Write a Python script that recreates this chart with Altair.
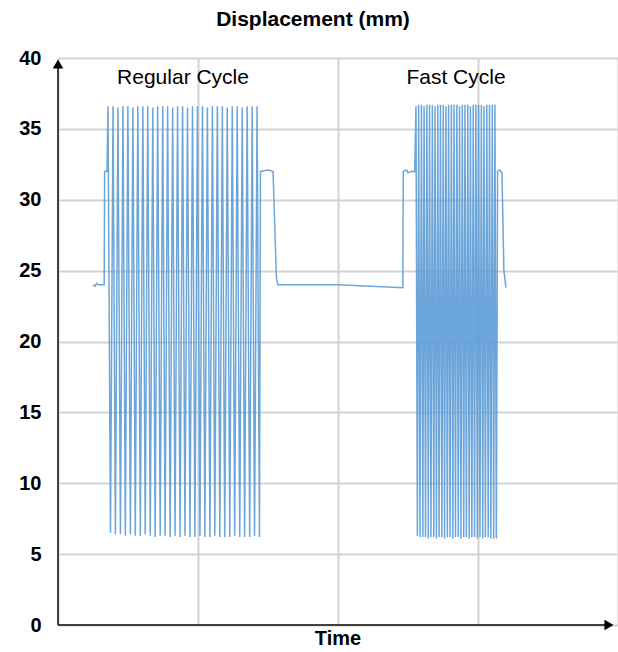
import altair as alt
import pandas as pd

FONT = "Liberation Sans"
LINE_COLOR = "#5b9bd5"

# --- lead-in / hold segments (time, displacement mm) ---
lead_t = [25.0, 26.5, 27.5, 29.0, 33.0, 33.3, 35.0]
lead_v = [24.0, 23.9, 24.1, 24.0, 24.0, 32.0, 32.0]

mid_t = [144.6, 150.0, 153.6, 156.0, 157.1, 200.0, 246.3, 246.6, 249.0, 250.0, 252.0, 254.8]
mid_v = [32.0, 32.1, 32.0, 24.5, 24.0, 24.0, 23.8, 32.0, 32.1, 31.9, 32.0, 32.0]

tail_t = [314.0, 315.5, 317.1, 318.5, 320.0]
tail_v = [32.0, 32.1, 31.9, 25.0, 23.8]

# --- Regular cycle: peaks and troughs ---
reg_peak_t = [35.7, 39.3, 42.8, 46.4, 49.9, 53.5, 57.0, 60.6, 64.1, 67.7, 71.2, 74.8, 78.3,
              81.9, 85.4, 89.0, 92.5, 96.1, 99.6, 103.2, 106.7, 110.3, 113.8, 117.4, 120.9,
              124.5, 128.0, 131.6, 135.1, 138.7, 142.2]
reg_peak_v = [36.6, 36.6, 36.5, 36.6, 36.6, 36.5, 36.6, 36.6, 36.6, 36.5, 36.6, 36.6, 36.6,
              36.5, 36.6, 36.6, 36.5, 36.6, 36.6, 36.6, 36.5, 36.6, 36.6, 36.6, 36.5,
              36.6, 36.6, 36.5, 36.6, 36.6, 36.6]
reg_trough_t = [37.5, 41.0, 44.6, 48.1, 51.7, 55.2, 58.8, 62.3, 65.9, 69.4, 73.0, 76.5, 80.1,
                83.6, 87.2, 90.7, 94.3, 97.8, 101.4, 104.9, 108.5, 112.0, 115.6, 119.1, 122.7,
                126.2, 129.8, 133.3, 136.9, 140.4, 143.9]
reg_trough_v = [6.5, 6.4, 6.4, 6.3, 6.4, 6.3, 6.3, 6.4, 6.3, 6.2, 6.3, 6.3, 6.2,
                6.3, 6.2, 6.3, 6.2, 6.2, 6.3, 6.2, 6.2, 6.3, 6.2, 6.2, 6.2,
                6.3, 6.2, 6.2, 6.2, 6.3, 6.2]

# --- Fast cycle: peaks and troughs ---
fast_peak_t = [255.7, 257.6, 259.6, 261.5, 263.5, 265.4, 267.4, 269.3, 271.3, 273.2,
               275.2, 277.1, 279.0, 281.0, 282.9, 284.9, 286.8, 288.8, 290.7, 292.7,
               294.6, 296.6, 298.5, 300.4, 302.4, 304.3, 306.3, 308.2, 310.2, 312.1]
fast_peak_v = [36.6, 36.7, 36.7, 36.6, 36.7, 36.7, 36.7, 36.6, 36.7, 36.7,
               36.7, 36.6, 36.7, 36.7, 36.7, 36.7, 36.6, 36.7, 36.7, 36.7,
               36.6, 36.7, 36.7, 36.7, 36.7, 36.6, 36.7, 36.7, 36.7, 36.7]
fast_trough_t = [256.7, 258.6, 260.6, 262.5, 264.5, 266.4, 268.4, 270.3, 272.2, 274.2,
                 276.1, 278.1, 280.0, 282.0, 283.9, 285.9, 287.8, 289.8, 291.7, 293.7,
                 295.6, 297.5, 299.5, 301.4, 303.4, 305.3, 307.3, 309.2, 311.2, 313.1]
fast_trough_v = [6.3, 6.2, 6.2, 6.2, 6.1, 6.2, 6.2, 6.1, 6.2, 6.2,
                 6.1, 6.2, 6.2, 6.1, 6.2, 6.2, 6.1, 6.2, 6.2, 6.1,
                 6.2, 6.2, 6.1, 6.2, 6.1, 6.2, 6.2, 6.1, 6.1, 6.1]

y_ticks = [0, 5, 10, 15, 20, 25, 30, 35, 40]
x_grid = [0, 100, 200, 300, 400]

labels_text = ["Regular Cycle", "Fast Cycle"]
labels_t = [89.3, 284.3]
labels_v = [38.6, 38.6]

ts = lead_t + reg_peak_t + reg_trough_t + mid_t + fast_peak_t + fast_trough_t + tail_t
vs = lead_v + reg_peak_v + reg_trough_v + mid_v + fast_peak_v + fast_trough_v + tail_v
df = pd.DataFrame({"t": ts, "v": vs}).sort_values("t").reset_index(drop=True)

W, H = 560, 567

x_enc = alt.X("t:Q", scale=alt.Scale(domain=[0, 400], nice=False, zero=False),
              axis=alt.Axis(values=x_grid, labels=False, ticks=False, domain=False,
                            title=None, grid=True, gridColor="#d3d3d3", gridWidth=2))
y_enc = alt.Y("v:Q", scale=alt.Scale(domain=[0, 40], nice=False),
              axis=alt.Axis(values=y_ticks, ticks=False, domain=False, title=None,
                            labelFont=FONT, labelFontSize=20, labelFontWeight="bold",
                            labelColor="#000000", labelPadding=17,
                            grid=True, gridColor="#d3d3d3", gridWidth=2))

line = alt.Chart(df).mark_line(color=LINE_COLOR, strokeWidth=1.5, opacity=0.9,
                               interpolate="linear").encode(
    x=x_enc, y=y_enc, order="t:Q")

one = pd.DataFrame({"a": [0]})
yaxis = alt.Chart(one).mark_rule(color="#404040", strokeWidth=2).encode(
    x=alt.value(0), y=alt.value(H), y2=alt.value(8))
xaxis = alt.Chart(one).mark_rule(color="#404040", strokeWidth=2).encode(
    x=alt.value(0), x2=alt.value(W - 12), y=alt.value(H))
up_arrow = alt.Chart(one).mark_point(shape="triangle-up", filled=True, color="#000000",
                                     size=110, opacity=1).encode(
    x=alt.value(0), y=alt.value(6))
right_arrow = alt.Chart(one).mark_point(shape="triangle-right", filled=True, color="#000000",
                                        size=110, opacity=1).encode(
    x=alt.value(W - 9), y=alt.value(H))

lab_df = pd.DataFrame({"text": labels_text, "t": labels_t, "v": labels_v})
annot = alt.Chart(lab_df).mark_text(font=FONT, fontSize=21, color="#000000",
                                    baseline="middle", align="center").encode(
    x=alt.X("t:Q", scale=alt.Scale(domain=[0, 400], nice=False)),
    y=alt.Y("v:Q", scale=alt.Scale(domain=[0, 40], nice=False)),
    text="text:N")

title = alt.Chart(one).mark_text(text="Displacement (mm)", font=FONT, fontSize=21,
                                 fontWeight="bold", color="#000000",
                                 baseline="middle", align="center").encode(
    x=alt.value(255), y=alt.value(-38))
xtitle = alt.Chart(one).mark_text(text="Time", font=FONT, fontSize=20,
                                  fontWeight="bold", color="#000000",
                                  baseline="middle", align="center").encode(
    x=alt.value(280), y=alt.value(581))

chart = alt.layer(line, annot, yaxis, xaxis, up_arrow, right_arrow, title, xtitle).properties(
    width=W, height=H,
    autosize=alt.AutoSizeParams(type="none"),
    padding={"left": 58, "top": 58, "right": 0, "bottom": 27},
    background="#ffffff",
).configure_view(stroke=None)

chart.save("out.html", embed_options={"renderer": "svg", "actions": False})
